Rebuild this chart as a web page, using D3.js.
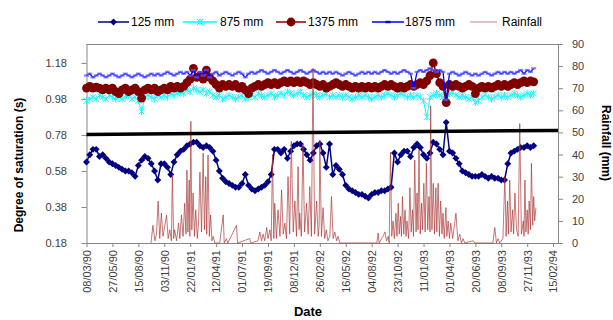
<!DOCTYPE html>
<html><head><meta charset="utf-8">
<script src="https://cdn.jsdelivr.net/npm/d3@7"></script>
<style>body{margin:0;background:#fff}svg{display:block}</style>
</head><body>
<svg id="c" width="613" height="320"></svg>
<script>
const tickLabels = ["08/03/90","27/05/90","15/08/90","03/11/90","22/01/91","12/04/91","01/07/91","19/09/91","08/12/91","26/02/92","16/05/92","04/08/92","23/10/92","11/01/93","01/04/93","20/06/93","08/09/93","27/11/93","15/02/94"];
const seriesNames = ["125 mm","875 mm","1375 mm","1875 mm","Rainfall"];
const firstDate = "08/03/90";
const stepDays = 10;
const lastAxisDay = 1455;
const yLeftTicks = [0.18,0.38,0.58,0.78,0.98,1.18];
const yRightTicks = [0,10,20,30,40,50,60,70,80,90];

const s125 = [0.63,0.67,0.70,0.70,0.66,0.67,0.65,0.63,0.62,0.61,
0.60,0.59,0.58,0.58,0.57,0.55,0.61,0.64,0.66,0.65,
0.62,0.58,0.53,0.62,0.62,0.60,0.56,0.63,0.67,0.69,
0.70,0.72,0.73,0.74,0.74,0.72,0.71,0.72,0.71,0.69,
0.64,0.58,0.54,0.52,0.51,0.50,0.49,0.49,0.51,0.56,
0.50,0.48,0.47,0.48,0.49,0.50,0.52,0.56,0.70,0.70,
0.68,0.70,0.65,0.69,0.72,0.73,0.73,0.70,0.67,0.64,
0.68,0.72,0.73,0.68,0.60,0.73,0.56,0.61,0.59,0.56,
0.50,0.48,0.47,0.46,0.45,0.45,0.44,0.43,0.45,0.46,
0.46,0.47,0.47,0.48,0.49,0.68,0.63,0.67,0.69,0.69,
0.66,0.71,0.73,0.71,0.67,0.65,0.68,0.74,0.73,0.70,
0.67,0.85,0.69,0.68,0.65,0.62,0.58,0.57,0.56,0.55,
0.55,0.55,0.56,0.55,0.54,0.55,0.54,0.54,0.53,0.53,
0.62,0.68,0.69,0.70,0.71,0.71,0.72,0.71,0.72];

const s875 = [0.97,0.98,0.99,0.98,1.00,0.99,0.98,1.00,0.99,0.98,
0.99,0.98,0.99,1.00,0.98,0.99,0.97,0.91,0.99,1.00,
0.99,0.98,1.00,0.99,1.00,0.99,1.01,1.00,1.01,1.02,
1.01,1.03,1.02,1.04,1.03,1.02,1.03,1.01,1.02,1.00,
0.99,1.00,0.98,0.99,1.00,0.99,0.98,0.99,1.00,0.98,
0.99,1.00,0.99,1.01,1.00,0.99,1.00,1.01,0.99,1.00,
1.01,1.00,1.02,1.01,1.00,1.01,1.02,1.00,0.99,1.00,
1.01,1.00,0.99,1.00,1.01,0.99,1.00,0.99,1.00,0.99,
1.00,0.99,0.98,0.99,1.00,0.99,1.00,0.99,0.98,0.99,
1.00,0.99,1.00,1.01,1.00,0.99,1.00,1.01,1.00,0.99,
1.00,0.99,1.00,0.99,0.97,0.88,0.99,1.00,1.01,1.00,
0.99,0.98,1.01,1.02,1.00,0.99,1.00,0.99,0.98,0.99,
0.96,0.97,0.99,1.00,0.99,0.98,0.99,1.00,0.99,1.00,
0.99,1.00,1.01,1.00,0.99,1.00,1.01,1.00,1.01];

const s1375 = [1.04,1.05,1.04,1.045,1.04,1.03,1.04,1.03,1.04,1.02,
1.01,1.03,1.04,1.02,1.03,1.04,1.02,0.985,1.03,1.04,
1.03,1.04,1.02,1.03,1.04,1.03,1.05,1.04,1.05,1.04,
1.05,1.07,1.09,1.15,1.10,1.11,1.09,1.14,1.10,1.08,
1.06,1.04,1.06,1.05,1.06,1.05,1.06,1.04,1.05,1.03,
1.01,1.04,1.05,1.06,1.05,1.06,1.07,1.06,1.07,1.06,
1.07,1.08,1.07,1.08,1.07,1.08,1.07,1.08,1.07,1.06,
1.07,1.06,1.05,1.06,1.04,1.05,1.06,1.07,1.06,1.05,
1.06,1.05,1.04,1.05,1.04,1.05,1.04,1.05,1.04,1.05,
1.04,1.05,1.06,1.05,1.06,1.05,1.04,1.05,1.04,1.05,
1.06,1.05,1.06,1.07,1.06,1.08,1.11,1.18,1.12,1.07,
1.05,0.96,1.06,1.05,1.06,1.05,1.04,1.05,1.06,1.05,
1.01,1.04,1.05,1.04,1.05,1.04,1.05,1.06,1.05,1.06,
1.05,1.06,1.07,1.06,1.07,1.08,1.07,1.08,1.075];

const s1875 = [1.11,1.12,1.10,1.11,1.12,1.11,1.10,1.11,1.12,1.11,
1.10,1.11,1.12,1.11,1.10,1.11,1.12,1.11,1.10,1.11,
1.12,1.11,1.12,1.11,1.12,1.13,1.12,1.11,1.12,1.13,
1.12,1.13,1.11,1.14,1.10,1.13,1.11,1.14,1.10,1.12,
1.13,1.11,1.12,1.13,1.12,1.11,1.12,1.13,1.12,1.10,
1.12,1.13,1.12,1.13,1.14,1.13,1.12,1.13,1.14,1.13,
1.12,1.13,1.14,1.13,1.12,1.13,1.14,1.13,1.12,1.13,
1.14,1.13,1.12,1.13,1.12,1.13,1.12,1.13,1.12,1.11,
1.12,1.13,1.12,1.11,1.12,1.13,1.12,1.13,1.12,1.13,
1.12,1.13,1.14,1.13,1.12,1.13,1.12,1.13,1.14,1.13,
1.12,1.04,1.13,1.14,1.13,1.14,1.15,1.14,1.13,1.14,
1.13,0.975,1.12,1.13,1.12,1.11,1.12,1.13,1.12,1.11,
1.12,1.11,1.12,1.13,1.12,1.11,1.12,1.13,1.12,1.13,
1.12,1.13,1.12,1.13,1.14,1.12,1.14,1.13,1.15];

const trendValues = [0.783, 0.805];

const rainDay = [199,205,211,216,221,226,231,236,242,247,252,257,262,265,269,272,278,284,288,293,298,303,307,310,313,317,319,322,325,329,333,337,342,346,350,355,360,364,368,371,375,379,383,387,391,396,411,422,425,432,436,463,466,504,507,529,535,540,545,550,556,560,566,570,574,578,581,586,591,597,602,607,612,617,622,627,632,638,643,648,653,656,658,663,668,673,679,684,689,694,699,704,710,715,718,720,725,730,735,740,745,751,756,761,766,772,776,782,896,900,903,915,921,926,931,934,938,942,946,950,955,958,962,965,969,972,975,979,983,986,989,994,998,1002,1006,1009,1013,1017,1020,1023,1026,1030,1034,1037,1041,1045,1049,1053,1057,1060,1062,1066,1070,1074,1078,1081,1085,1089,1093,1097,1100,1104,1109,1112,1116,1120,1124,1130,1140,1146,1152,1157,1162,1167,1193,1198,1254,1260,1265,1270,1275,1285,1291,1295,1299,1302,1306,1310,1315,1318,1322,1327,1332,1337,1342,1348,1350,1353,1356,1360,1363,1366,1370,1373,1377,1380,1383,1387];
const rainMm = [0,8,1,4,19,2,13.5,3,8,12.7,2,6,1,31,2,6,1,9,2,12.7,3,18,4,33,5,28.5,3,55,6,22.6,3,15,2,10,32,5,40.6,6,30,4,39.8,3,12.7,1,3,0,0,12.7,0,2,0,8,0,2,0,1,5,1,4,1,7,2,6,1,40,2,18,2,15,3,24,4,9,2,30,4,46,5,19,3,34.5,6,13.5,3,45,5,18,4,25.5,3,79,4,19,3,8,46.6,3,16,2,6,1,3,21,2,5,1,3,0,0,4.5,0,3,5,1,3,0,41,3,10,2,13.5,3,18,4,12,3,21,4,15,3,10,2,25,5,15,3,37.5,5,22.6,6,42,4,18,6,27,5,36,6,21,5,62,6,27,4,25,5,27,3,19,4,13.5,2,16,3,10,2,9,2,13.5,1,4,0,2,0,1,0,0,7,0,2,0,2,30,3,19,4,28.5,5,15,4,22.6,6,3,54,4,10,3,28.5,5,15,4,19,6,36,8,21,10,16];

// ---- layout
const P = {l:86.5, r:558, t:44, b:243};
const FONT = "'Liberation Sans',Arial,sans-serif";
const svg = d3.select("#c");
const parse = d3.timeParse("%d/%m/%y");
const t0 = parse(firstDate);
const dayOf = n => d3.timeDay.offset(t0, n);
const x = d3.scaleTime().domain([t0, dayOf(lastAxisDay)]).range([P.l, P.r]);
const yL = d3.scaleLinear().domain([0.18, 1.285]).range([P.b, P.t]);
const yR = d3.scaleLinear().domain([0, 90]).range([P.b, P.t]);

const satDates = s125.map((_, i) => dayOf(i * stepDays));

// frame
svg.append("line").attr("x1",P.l).attr("x2",P.r).attr("y1",P.t+0.5).attr("y2",P.t+0.5).attr("stroke","#868686");

// axes
const gx = svg.append("g").attr("transform",`translate(0,${P.b})`)
  .call(d3.axisBottom(x).tickValues(tickLabels.map(parse)).tickFormat(d3.timeFormat("%d/%m/%y")).tickSize(4).tickSizeOuter(0));
gx.selectAll("text").attr("transform","rotate(-90)").attr("text-anchor","end")
  .attr("x",-7).attr("y",0).attr("dy","0.35em");
const gl = svg.append("g").attr("transform",`translate(${P.l},0)`)
  .call(d3.axisLeft(yL).tickValues(yLeftTicks).tickFormat(d3.format(".2f")).tickSize(5).tickSizeOuter(0));
const gr = svg.append("g").attr("transform",`translate(${P.r},0)`)
  .call(d3.axisRight(yR).tickValues(yRightTicks).tickSize(5).tickSizeOuter(0));
gr.selectAll("text").attr("x",14);
gl.selectAll("text").attr("x",-23).attr("text-anchor","start");
[gx,gl,gr].forEach(g=>{
  g.selectAll("path,line").attr("stroke","#868686");
  g.selectAll("text").attr("font-family",FONT).attr("font-size","11px").attr("fill","#404040");
});
gl.selectAll("text").attr("x",-41);

// series
const lineL = (vals) => d3.line().x((d,i)=>x(satDates[i])).y(d=>yL(d))(vals);
const diamond = d3.symbol(d3.symbolSquare, 24);
const xMark = "M-3,-3L3,3M-3,3L3,-3M0,-3.5L0,3.5";

function drawSeries(g, vals, color, lw){
  g.append("path").attr("d", lineL(vals)).attr("fill","none").attr("stroke",color).attr("stroke-width",lw);
}
const gs = svg.append("g");
// 125 mm
drawSeries(gs, s125, "#000080", 1.5);
gs.append("g").selectAll("path").data(s125).join("path")
  .attr("d", diamond).attr("fill","#000080")
  .attr("transform",(d,i)=>`translate(${x(satDates[i])},${yL(d)}) rotate(45)`);
// 875 mm
drawSeries(gs, s875, "#00ffff", 1);
gs.append("g").selectAll("path").data(s875).join("path")
  .attr("d", xMark).attr("stroke","#33eeff").attr("stroke-width",1).attr("fill","none")
  .attr("transform",(d,i)=>`translate(${x(satDates[i])},${yL(d)})`);
// 1375 mm
drawSeries(gs, s1375, "#800000", 1.5);
gs.append("g").selectAll("circle").data(s1375).join("circle")
  .attr("cx",(d,i)=>x(satDates[i])).attr("cy",d=>yL(d)).attr("r",4.4).attr("fill","#800000");
// 1875 mm
drawSeries(gs, s1875, "#0000ff", 1.3);
gs.append("g").selectAll("rect").data(s1875).join("rect")
  .attr("x",(d,i)=>x(satDates[i])-2.5).attr("y",d=>yL(d)-1.2).attr("width",5).attr("height",2.4)
  .attr("fill","#5a5aff").attr("opacity",0.7);

// rainfall
const rainPts = rainDay.map((d,i)=>[dayOf(d), rainMm[i]]);
svg.append("path").attr("d", d3.line().x(d=>x(d[0])).y(d=>yR(d[1]))(rainPts))
  .attr("fill","none").attr("stroke","#a83232").attr("stroke-width",0.9).attr("opacity",0.75);

// black line
svg.append("path").attr("d", d3.line().x((d,i)=>x(i===0?t0:dayOf(lastAxisDay))).y(d=>yL(d))(trendValues))
  .attr("stroke","#000").attr("stroke-width",3.5).attr("fill","none");

// titles
svg.append("text").attr("transform","translate(19,165) rotate(-90)").attr("text-anchor","middle").attr("dy","0.35em")
  .attr("font-family",FONT).attr("font-weight","bold").attr("font-size","12px").text("Degree of saturation (s)");
svg.append("text").attr("transform","translate(606,143) rotate(90)").attr("text-anchor","middle").attr("dy","0.35em")
  .attr("font-family",FONT).attr("font-weight","bold").attr("font-size","12px").text("Rainfall (mm)");
svg.append("text").attr("x",308).attr("y",316).attr("text-anchor","middle")
  .attr("font-family",FONT).attr("font-weight","bold").attr("font-size","13px").text("Date");

// legend
const LY = 22;
const leg = [
  {x0:98,x1:129,tx:131,c:"#000080",m:"diamond"},
  {x0:183,x1:217,tx:220,c:"#00ffff",m:"x"},
  {x0:276,x1:306,tx:308,c:"#800000",m:"circle"},
  {x0:372,x1:404,tx:405,c:"#0000ff",m:"dash"},
  {x0:470,x1:497,tx:502,c:"#a83232",m:"none"}
];
const lg = svg.append("g");
leg.forEach((L,i)=>{
  const cx=(L.x0+L.x1)/2;
  const ln = lg.append("line").attr("x1",L.x0).attr("x2",L.x1).attr("y1",LY).attr("y2",LY).attr("stroke",L.c)
    .attr("stroke-width", i===4?2:1.5);
  if(i===4) ln.attr("opacity",0.3);
  if(L.m==="diamond") lg.append("path").attr("d",diamond).attr("fill",L.c).attr("transform",`translate(${cx},${LY}) rotate(45)`);
  if(L.m==="x") lg.append("path").attr("d",xMark).attr("stroke",L.c).attr("fill","none").attr("transform",`translate(${cx},${LY})`);
  if(L.m==="circle") lg.append("circle").attr("cx",cx).attr("cy",LY).attr("r",4.4).attr("fill",L.c);
  if(L.m==="dash") lg.append("rect").attr("x",cx-2.5).attr("y",LY-1.2).attr("width",5).attr("height",2.4).attr("fill",L.c);
  lg.append("text").attr("x",L.tx).attr("y",LY).attr("dy","0.35em").attr("font-family",FONT)
    .attr("font-size","12px").attr("fill","#000").text(seriesNames[i]);
});
</script>
</body></html>
